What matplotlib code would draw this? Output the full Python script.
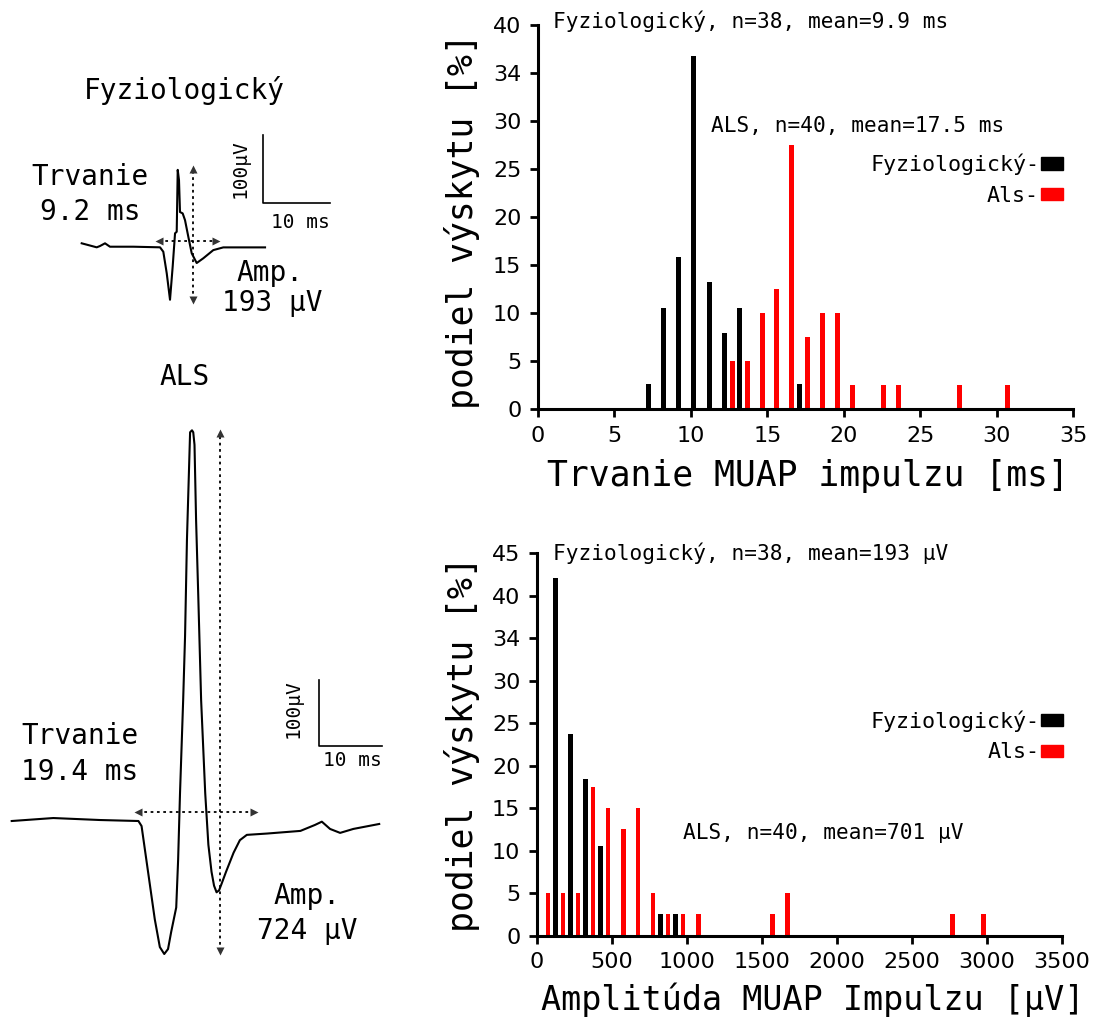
import numpy as np
import matplotlib.pyplot as plt
from matplotlib.patches import Patch

# --- data ---
# MUAP waveforms (time in ms, voltage in uV)
fyz_t = [0, 2.24, 2.73, 3.48, 4.22, 7.7, 11.69, 12.18, 12.69, 13.18, 13.58, 13.93, 14.18,
         14.33, 14.52, 14.67, 15.07, 15.42, 15.91, 16.42, 17.16, 18.15, 19.64, 21.13, 23.63, 27.36]
fyz_v = [4, -1.9, 0, 4, -1, -1, -1.9, -8.4, -40, -79, -30, 18.7, 21,
         112, 97, 50, 48, 38, 13.7, -10.7, -25, -18, -6, -2, -2, -2]

als_t = [0, 6.6, 14.0, 20.1, 20.6, 22.7, 23.5, 24.2, 24.8, 25.3, 26.1, 26.4, 26.7, 27.2,
         27.5, 27.8, 28.3, 28.6, 28.8, 29.0, 29.25, 29.6, 30.05, 30.7, 31.2, 31.7, 32.1,
         32.5, 32.9, 33.3, 34.0, 35.2, 36.2, 37.3, 40.5, 45.8, 48.1, 49.2, 50.5, 52.1,
         54.2, 58.3]
als_v = [0, 4.5, 1.5, 0, -7.6, -149, -191, -201.5, -194, -168, -131, -59, 42, 183,
         280, 426, 589, 592, 589, 570, 456, 340, 183, 42, -36, -77, -98,
         -108, -105, -95, -77, -48, -29, -21, -19, -15, -6, -1, -12, -18,
         -12, -4.5]

# duration histogram [%]
dur_fyz_x = [7.2, 8.2, 9.2, 10.2, 11.2, 12.2, 13.2, 17.1]
dur_fyz_pct = [2.6, 10.5, 15.8, 36.8, 13.2, 7.9, 10.5, 2.6]
dur_als_x = [12.7, 13.7, 14.7, 15.6, 16.6, 17.6, 18.6, 19.6, 20.6, 22.6, 23.6, 27.6, 30.7]
dur_als_pct = [5, 5, 10, 12.5, 27.5, 7.5, 10, 10, 2.5, 2.5, 2.5, 2.5, 2.5]

# amplitude histogram [%]
amp_fyz_x = [122, 222, 324, 424, 822, 924]
amp_fyz_pct = [42.1, 23.7, 18.4, 10.5, 2.6, 2.6]
amp_als_x = [73, 173, 273, 373, 473, 575, 673, 773, 873, 973, 1075, 1569, 1671, 2771, 2975]
amp_als_pct = [5, 5, 5, 17.5, 15, 12.5, 15, 5, 2.5, 2.5, 2.5, 2.5, 5, 2.5, 2.5]

dur_yticks = [0, 5, 10, 15, 20, 25, 30, 35, 40]
dur_ylabels = ['0', '5', '10', '15', '20', '25', '30', '34', '40']
amp_yticks = [0, 5, 10, 15, 20, 25, 30, 35, 40, 45]
amp_ylabels = ['0', '5', '10', '15', '20', '25', '30', '34', '40', '45']

MONO = 'DejaVu Sans Mono'
W, H = 1093, 1019

fig = plt.figure(figsize=(W / 100, H / 100), dpi=100)


def arrow_v(ax, t, v0, v1):
    ax.plot([t, t], [v0, v1], ls=(0, (1.5, 2)), color='k', lw=1.3)
    ax.plot(t, v1, marker='^', ms=6, color='#333333', mec='none')
    ax.plot(t, v0, marker='v', ms=6, color='#333333', mec='none')


def arrow_h(ax, v, t0, t1):
    ax.plot([t0, t1], [v, v], ls=(0, (1.5, 2)), color='k', lw=1.3)
    ax.plot(t0, v, marker='<', ms=6, color='#333333', mec='none')
    ax.plot(t1, v, marker='>', ms=6, color='#333333', mec='none')


def scale_bar(ax, t0, v0, dt, dv):
    ax.plot([t0, t0, t0 + dt], [v0 + dv, v0, v0], color='k', lw=1.2)


# --- left: physiological MUAP ---
ax1 = fig.add_axes([0, 1 - 340 / H, 400 / W, 300 / H])
ax1.set_xlim(-12.19, 47.5)
ax1.set_ylim(-138.2, 303)
ax1.axis('off')
ax1.plot(fyz_t, fyz_v, color='k', lw=1.5)
arrow_v(ax1, 16.6, -79, 114)
arrow_h(ax1, 7, 11.6, 20.1)
scale_bar(ax1, 27, 64, 10, 100)
ax1.text(15.3, 229, 'Fyziologický', family=MONO, fontsize=20, ha='center', va='center')
ax1.text(1.25, 101, 'Trvanie', family=MONO, fontsize=20, ha='center', va='center')
ax1.text(1.25, 50, '9.2 ms', family=MONO, fontsize=20, ha='center', va='center')
ax1.text(28.1, -40, 'Amp.', family=MONO, fontsize=20, ha='center', va='center')
ax1.text(28.5, -84, '193 µV', family=MONO, fontsize=20, ha='center', va='center')
ax1.text(23.6, 114, '100µV', family=MONO, fontsize=14, ha='center', va='center', rotation=90)
ax1.text(32.6, 35, '10 ms', family=MONO, fontsize=14, ha='center', va='center')

# --- left: ALS MUAP ---
ax2 = fig.add_axes([0, 1 - 1000 / H, 400 / W, 660 / H])
ax2.set_xlim(-1.857, 61.6)
ax2.set_ylim(-271.2, 728.8)
ax2.axis('off')
ax2.plot(als_t, als_v, color='k', lw=1.5)
arrow_v(ax2, 33.1, -197, 588)
arrow_h(ax2, 13, 20.1, 38.4)
scale_bar(ax2, 48.8, 113.6, 10, 100)
ax2.text(27.4, 673, 'ALS', family=MONO, fontsize=20, ha='center', va='center')
ax2.text(10.8, 129, 'Trvanie', family=MONO, fontsize=20, ha='center', va='center')
ax2.text(10.8, 75, '19.4 ms', family=MONO, fontsize=20, ha='center', va='center')
ax2.text(46.9, -113, 'Amp.', family=MONO, fontsize=20, ha='center', va='center')
ax2.text(46.9, -167, '724 µV', family=MONO, fontsize=20, ha='center', va='center')
ax2.text(44.7, 170, '100µV', family=MONO, fontsize=14, ha='center', va='center', rotation=90)
ax2.text(54, 91, '10 ms', family=MONO, fontsize=14, ha='center', va='center')


def style_hist(ax):
    for s in ['top', 'right']:
        ax.spines[s].set_visible(False)
    for s in ['left', 'bottom']:
        ax.spines[s].set_linewidth(2.2)
    ax.tick_params(direction='out', length=6, width=2, labelsize=16, pad=6)


def legend(ax, anchor):
    handles = [Patch(color='black'), Patch(color='red')]
    ax.legend(handles, ['Fyziologický-', 'Als-'], loc='upper right', bbox_to_anchor=anchor,
              frameon=False, markerfirst=False, prop={'family': MONO, 'size': 15.6},
              handlelength=1.0, handleheight=0.5, handletextpad=0.1, labelspacing=0.5,
              borderaxespad=0, borderpad=0)


# --- histogram of duration ---
ax3 = fig.add_axes([538 / W, 1 - 409 / H, 535 / W, 384 / H])
ax3.bar(dur_fyz_x, dur_fyz_pct, width=0.33, color='black')
ax3.bar(dur_als_x, dur_als_pct, width=0.33, color='red')
ax3.set_xlim(0, 35)
ax3.set_ylim(0, 40)
ax3.set_xticks(range(0, 36, 5))
ax3.set_yticks(dur_yticks, dur_ylabels)
style_hist(ax3)
ax3.set_xlabel('Trvanie MUAP impulzu [ms]', family=MONO, fontsize=25, va='center')
ax3.xaxis.set_label_coords(0.505, -0.175)
ax3.set_ylabel('podiel výskytu [%]', family=MONO, fontsize=25, va='center')
ax3.yaxis.set_label_coords(-0.142, 0.49)
ax3.text(1.0, 40.4, 'Fyziologický, n=38, mean=9.9 ms', family=MONO, fontsize=15.2, va='center')
ax3.text(11.3, 29.5, 'ALS, n=40, mean=17.5 ms', family=MONO, fontsize=15.2, va='center')
legend(ax3, (0.981, 0.665))

# --- histogram of amplitude ---
ax4 = fig.add_axes([537 / W, 1 - 935.7 / H, 525 / W, 382.4 / H])
ax4.bar(amp_fyz_x, amp_fyz_pct, width=32, color='black')
ax4.bar(amp_als_x, amp_als_pct, width=32, color='red')
ax4.set_xlim(0, 3500)
ax4.set_ylim(0, 45)
ax4.set_xticks(range(0, 3501, 500))
ax4.set_yticks(amp_yticks, amp_ylabels)
style_hist(ax4)
ax4.set_xlabel('Amplitúda MUAP Impulzu [µV]', family=MONO, fontsize=24, va='center')
ax4.xaxis.set_label_coords(0.525, -0.168)
ax4.set_ylabel('podiel výskytu [%]', family=MONO, fontsize=25, va='center')
ax4.yaxis.set_label_coords(-0.142, 0.5)
ax4.text(107, 45.0, 'Fyziologický, n=38, mean=193 µV', family=MONO, fontsize=15.2, va='center')
ax4.text(973, 12.1, 'ALS, n=40, mean=701 µV', family=MONO, fontsize=15.2, va='center')
legend(ax4, (1.002, 0.59))

fig.savefig('out.png', dpi=100)
